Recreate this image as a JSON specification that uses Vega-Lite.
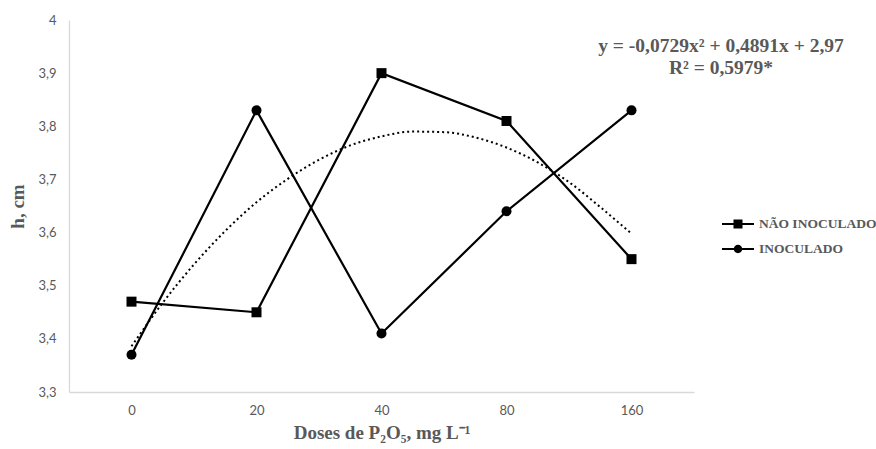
{
  "$schema": "https://vega.github.io/schema/vega-lite/v6.json",
  "width": 625,
  "height": 372,
  "autosize": {"type": "none"},
  "padding": {"left": 69, "top": 20, "right": 182, "bottom": 57},
  "background": "white",
  "config": {
    "view": {"stroke": null},
    "axis": {"grid": false, "ticks": false, "domainColor": "#d9d9d9", "domainWidth": 1.3, "labelColor": "#595959", "labelFont": "Lato", "labelFontSize": 13, "titleFont": "Liberation Serif", "titleFontWeight": "bold", "titleFontSize": 19, "titleColor": "#595959"}
  },
  "title": {
    "text": ["y = -0,0729x² + 0,4891x + 2,97", "R² = 0,5979*"],
    "anchor": "end",
    "align": "center",
    "frame": "group",
    "dx": 27,
    "dy": 68,
    "baseline": "top",
    "font": "Liberation Serif",
    "fontWeight": "bold",
    "fontSize": 19.5,
    "lineHeight": 22,
    "color": "#595959"
  },
  "datasets": {
    "series": [
      {"pos": 1, "dose": "0", "serie": "NÃO INOCULADO", "h": 3.47},
      {"pos": 2, "dose": "20", "serie": "NÃO INOCULADO", "h": 3.45},
      {"pos": 3, "dose": "40", "serie": "NÃO INOCULADO", "h": 3.90},
      {"pos": 4, "dose": "80", "serie": "NÃO INOCULADO", "h": 3.81},
      {"pos": 5, "dose": "160", "serie": "NÃO INOCULADO", "h": 3.55},
      {"pos": 1, "dose": "0", "serie": "INOCULADO", "h": 3.37},
      {"pos": 2, "dose": "20", "serie": "INOCULADO", "h": 3.83},
      {"pos": 3, "dose": "40", "serie": "INOCULADO", "h": 3.41},
      {"pos": 4, "dose": "80", "serie": "INOCULADO", "h": 3.64},
      {"pos": 5, "dose": "160", "serie": "INOCULADO", "h": 3.83}
    ],
    "trend": [
      {"pos": 1.0, "h": 3.386},
      {"pos": 1.25, "h": 3.468},
      {"pos": 1.5, "h": 3.540},
      {"pos": 1.75, "h": 3.603},
      {"pos": 2.0, "h": 3.657},
      {"pos": 2.25, "h": 3.701},
      {"pos": 2.5, "h": 3.737},
      {"pos": 2.75, "h": 3.764},
      {"pos": 3.0, "h": 3.781},
      {"pos": 3.25, "h": 3.790},
      {"pos": 3.5, "h": 3.789},
      {"pos": 3.75, "h": 3.779},
      {"pos": 4.0, "h": 3.760},
      {"pos": 4.25, "h": 3.732},
      {"pos": 4.5, "h": 3.695},
      {"pos": 4.75, "h": 3.648},
      {"pos": 5.0, "h": 3.598}
    ]
  },
  "encoding": {
    "x": {
      "field": "pos",
      "type": "quantitative",
      "scale": {"domain": [0.5, 5.5], "nice": false, "zero": false},
      "axis": {"values": [1, 2, 3, 4, 5], "labelExpr": "['0','20','40','80','160'][datum.value - 1]", "labelPadding": 12, "title": "Doses de P₂O₅, mg L⁻¹", "titlePadding": 6}
    },
    "y": {
      "field": "h",
      "type": "quantitative",
      "scale": {"domain": [3.3, 4.0], "nice": false, "zero": false},
      "axis": {"values": [3.3, 3.4, 3.5, 3.6, 3.7, 3.8, 3.9, 4.0], "labelExpr": "replace(toString(datum.value), '.', ',')", "labelPadding": 13, "title": "h, cm", "titlePadding": 10}
    }
  },
  "layer": [
    {
      "data": {"name": "trend"},
      "mark": {"type": "line", "color": "black", "strokeWidth": 2, "strokeDash": [2, 3], "interpolate": "monotone"}
    },
    {
      "data": {"name": "series"},
      "mark": {"type": "line", "color": "black", "strokeWidth": 2.2},
      "encoding": {"detail": {"field": "serie"}}
    },
    {
      "data": {"name": "series"},
      "mark": {"type": "point", "filled": true, "color": "black", "opacity": 1, "size": 100},
      "encoding": {
        "shape": {
          "field": "serie",
          "type": "nominal",
          "scale": {"domain": ["NÃO INOCULADO", "INOCULADO"], "range": ["square", "circle"]},
          "legend": null
        }
      }
    },
    {
      "data": {"name": "series"},
      "transform": [{"filter": "false"}],
      "mark": {"type": "point", "filled": true, "color": "black", "opacity": 1, "size": 400},
      "encoding": {
        "shape": {
          "field": "serie",
          "type": "nominal",
          "scale": {
            "domain": ["NÃO INOCULADO", "INOCULADO"],
            "range": ["M-1.6,-0.1H-0.4V0.1H-1.6Z M0.4,-0.1H1.6V0.1H0.4Z M-0.45,-0.45H0.45V0.45H-0.45Z", "M-1.6,-0.1H-0.4V0.1H-1.6Z M0.4,-0.1H1.6V0.1H0.4Z M0.42,0A0.42,0.42 0 1,1 -0.42,0A0.42,0.42 0 1,1 0.42,0Z"]
          },
          "legend": {
            "title": null,
            "orient": "none",
            "legendX": 659,
            "legendY": 194,
            "padding": 0,
            "symbolSize": 400,
            "symbolStrokeWidth": 0,
            "rowPadding": 8,
            "labelOffset": 11,
            "labelFont": "Liberation Serif",
            "labelFontWeight": "bold",
            "labelFontSize": 13.5,
            "labelColor": "#595959"
          }
        }
      }
    }
  ],
  "resolve": {"scale": {"shape": "independent"}, "legend": {"shape": "independent"}}
}
